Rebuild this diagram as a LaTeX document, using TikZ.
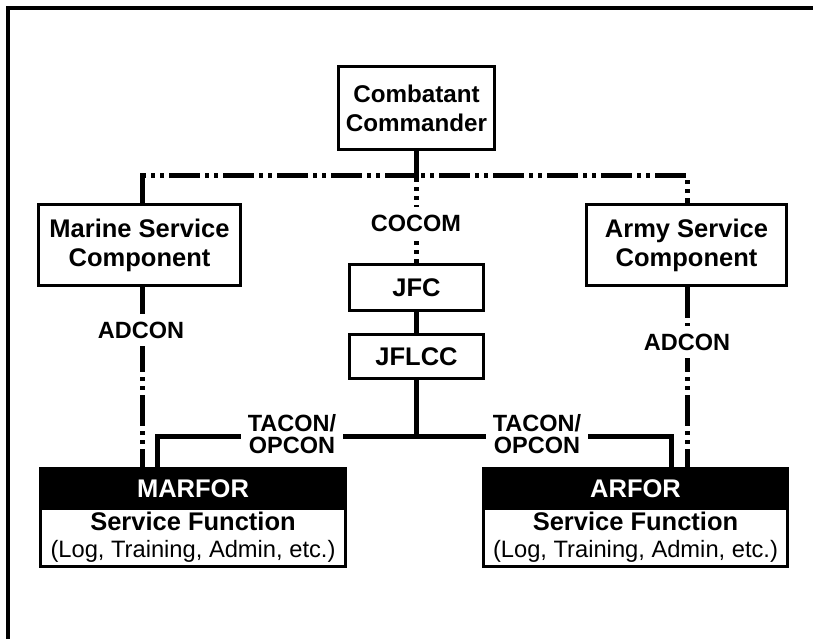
\documentclass[tikz,border=0pt]{standalone}
\usepackage{fontspec}
\setmainfont{Liberation Sans}
\newcommand\bigb{\fontsize{25.5}{29}\selectfont\bfseries}
\newcommand\ccf{\fontsize{24.2}{29}\selectfont\bfseries}
\newcommand\labf{\fontsize{23.5}{22}\selectfont\bfseries}
\newcommand\bodyf{\fontsize{25.5}{27}\selectfont}
\newcommand\regf{\fontsize{23.7}{27}\selectfont\mdseries}
\tikzset{
  box/.style={draw, line width=3.5pt, align=center, font=\bigb, inner sep=0pt},
  hdr/.style={draw, fill=black, text=white, line width=3.5pt, font=\bigb, inner sep=0pt},
  bodybox/.style={draw, line width=3.5pt, align=center, font=\bodyf, inner sep=0pt},
  dd/.style={line width=5pt, dash pattern=on 31pt off 5pt on 4pt off 5pt on 4pt off 5pt},
  sl/.style={line width=5pt},
  lbl/.style={fill=white, font=\labf, align=center, inner xsep=7pt, inner ysep=8pt},
  frame/.style={line width=4pt}
}
\begin{document}
\begin{tikzpicture}[x=1pt,y=-1pt]
\useasboundingbox (0,0) rectangle (813,639);
% frame
\coordinate (fa) at (7.5,639);
\coordinate (fb) at (7.5,8.5);
\coordinate (fc) at (813,8.5);
\draw[frame] (fa) -- (fb) -- (fc);
% nodes
\node[box, font=\ccf, minimum width=156pt, minimum height=83pt] (cc) at (416.5,108) {Combatant\\Commander};
\node[box, minimum width=202pt, minimum height=81pt] (msc) at (139.5,245) {Marine Service\\Component};
\node[box, minimum width=200pt, minimum height=81pt] (asc) at (686.5,245) {Army Service\\Component};
\node[box, minimum width=134pt, minimum height=46pt] (jfc) at (416.5,287.5) {JFC};
\node[box, minimum width=134pt, minimum height=44pt] (jflcc) at (416.5,356.5) {JFLCC};
\node[bodybox, minimum width=305pt, minimum height=58.5pt] (marforb) at (193,537.25) {\textbf{Service Function}\\{\regf (Log, Training, Admin, etc.)}};
\node[hdr, minimum width=305pt, minimum height=39.5pt] (marforh) at (193,488.25) {MARFOR};
\node[bodybox, minimum width=304pt, minimum height=58.5pt] (arforb) at (635.5,537.25) {\textbf{Service Function}\\{\regf (Log, Training, Admin, etc.)}};
\node[hdr, minimum width=304pt, minimum height=39.5pt] (arforh) at (635.5,488.25) {ARFOR};
% dash-dot connectors
\coordinate (hl) at (142,176);
\coordinate (hr) at (687,176);
\draw[dd] (cc.south) -- (jfc.north);
\draw[dd] (msc.north -| hl) -- (hl) -- (hr) -- (asc.north -| hr);
\draw[dd] (msc.south -| hl) -- (marforh.north -| hl);
\draw[dd] (asc.south -| hr) -- (arforh.north -| hr);
% solid connectors
\coordinate (tl) at (157,436);
\coordinate (tr) at (671,436);
\draw[sl] (jfc.south) -- (jflcc.north);
\draw[sl] (jflcc.south) -- (jflcc.south |- tl);
\draw[sl] (marforh.north -| tl) -- (tl) -- (tr) -- (arforh.north -| tr);
% labels
\node[lbl] (cocom) at (416,223.5) {COCOM};
\node[lbl] (adl) at (141,330) {ADCON};
\node[lbl] (adr) at (687,342) {ADCON};
\node[lbl, inner ysep=0pt] (t1) at (292,434) {TACON/\\OPCON};
\node[lbl, inner ysep=0pt] (t2) at (537,434) {TACON/\\OPCON};
\end{tikzpicture}
\end{document}
